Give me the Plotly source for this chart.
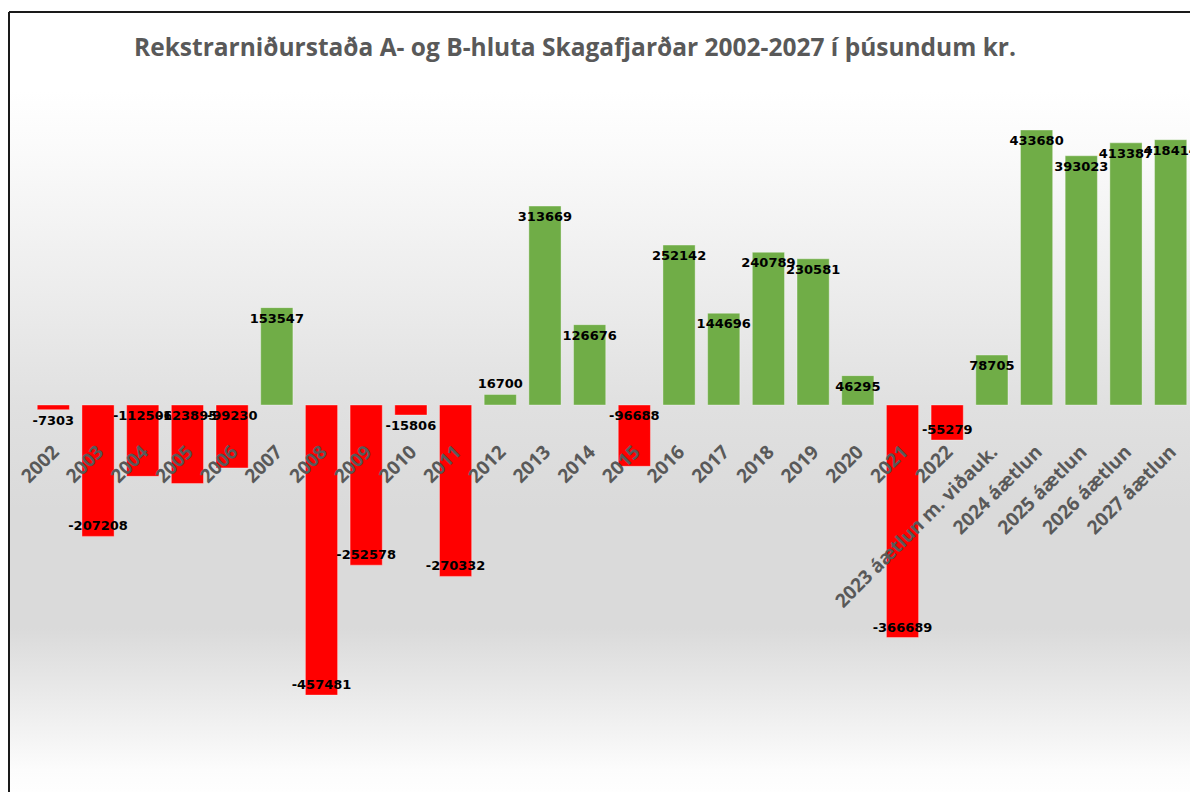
import base64
import plotly.graph_objects as go

categories = ["2002", "2003", "2004", "2005", "2006", "2007", "2008", "2009", "2010",
              "2011", "2012", "2013", "2014", "2015", "2016", "2017", "2018", "2019",
              "2020", "2021", "2022", "2023 áætlun m. viðauk.", "2024 áætlun",
              "2025 áætlun", "2026 áætlun", "2027 áætlun"]
values = [-7303, -207208, -112506, -123895, -99230, 153547, -457481, -252578, -15806,
          -270332, 16700, 313669, 126676, -96688, 252142, 144696, 240789, 230581,
          46295, -366689, -55279, 78705, 433680, 393023, 413387, 418414]
labels_at_base = ["2004", "2005", "2006", "2015"]

title_text = "Rekstrarniðurstaða A- og B-hluta Skagafjarðar 2002-2027 í þúsundum kr."

# page has an 8px body margin, so the figure is sized to fit the window
W, H = 1190, 784
ml, mr, mt, mb = 23, 5, 92, 32
pw, ph = W - ml - mr, H - mt - mb
y_lo, y_hi = -559850, 481000
zero_pos = (0 - y_lo) / (y_hi - y_lo)

RED = "#ff0000"
GREEN = "#70ad47"


def colour(v):
    return RED if v < 0 else GREEN


def pos(v):
    return "outside" if abs(v) < 30000 else "inside"


end_vals = [None if c in labels_at_base else v for c, v in zip(categories, values)]
base_vals = [v if c in labels_at_base else None for c, v in zip(categories, values)]

label_font = dict(family="DejaVu Sans", size=13, color="black", weight="bold")
edge = dict(width=1, color="rgba(255,255,255,0.35)")

fig = go.Figure()
fig.add_trace(go.Bar(
    x=categories, y=end_vals,
    marker=dict(color=[colour(v) if v is not None else GREEN for v in end_vals], line=edge),
    text=[str(v) if v is not None else "" for v in end_vals],
    textposition=[pos(v) if v is not None else "none" for v in end_vals],
    insidetextanchor="end", textangle=0, constraintext="none",
    textfont=label_font, insidetextfont=label_font, outsidetextfont=label_font,
    cliponaxis=False, showlegend=False,
))
fig.add_trace(go.Bar(
    x=categories, y=base_vals,
    marker=dict(color=[colour(v) if v is not None else GREEN for v in base_vals], line=edge),
    text=[str(v) if v is not None else "" for v in base_vals],
    textposition="inside",
    insidetextanchor="start", textangle=0, constraintext="none",
    textfont=label_font, insidetextfont=label_font,
    cliponaxis=False, showlegend=False,
))

# background gradient (Excel-like)
svg = '''<svg xmlns="http://www.w3.org/2000/svg" width="1190" height="780" preserveAspectRatio="none">
<defs><linearGradient id="g" x1="0" y1="0" x2="0" y2="1">
<stop offset="0" stop-color="#ffffff"/>
<stop offset="0.10" stop-color="#ffffff"/>
<stop offset="0.18" stop-color="#fafafa"/>
<stop offset="0.37" stop-color="#ebebeb"/>
<stop offset="0.50" stop-color="#e0e0e0"/>
<stop offset="0.63" stop-color="#dadada"/>
<stop offset="0.78" stop-color="#dadada"/>
<stop offset="0.87" stop-color="#ebebeb"/>
<stop offset="0.96" stop-color="#fcfcfc"/>
<stop offset="1" stop-color="#ffffff"/>
</linearGradient></defs>
<rect x="0" y="0" width="1190" height="780" fill="url(#g)"/></svg>'''
src = "data:image/svg+xml;base64," + base64.b64encode(svg.encode()).decode()

px0, py0 = 1, 4
fx0 = (px0 - ml) / pw
fy1 = (H - mb - py0) / ph
fig.add_layout_image(dict(source=src, xref="paper", yref="paper", x=fx0, y=fy1,
                          sizex=(W + 10 - px0) / pw, sizey=(H + 10 - py0) / ph,
                          sizing="stretch", xanchor="left", yanchor="top", layer="below"))

fig.add_shape(type="line", xref="paper", yref="paper", x0=fx0, x1=(W + 10 - ml) / pw,
              y0=fy1, y1=fy1, line=dict(color="#1a1a1a", width=2))
fig.add_shape(type="line", xref="paper", yref="paper", x0=fx0, x1=fx0,
              y0=fy1, y1=-(mb + 10) / ph, line=dict(color="#1a1a1a", width=2))

fig.update_layout(
    width=W, height=H,
    margin=dict(l=ml, r=mr, t=mt, b=mb, autoexpand=False),
    paper_bgcolor="white", plot_bgcolor="rgba(0,0,0,0)",
    barmode="overlay", bargap=0.28,
    title=dict(text=title_text, x=567 / W, xanchor="center", y=1 - 39 / H, yanchor="middle",
               font=dict(family="Open Sans", size=24.5, color="#595959", weight="bold")),
    xaxis=dict(type="category", range=[-0.5, len(categories) - 0.5], anchor="free",
               position=zero_pos, tickangle=-45, showline=False, ticks="", showgrid=False,
               zeroline=False, automargin=False, ticklabelstandoff=31,
               tickfont=dict(family="Open Sans", size=19, color="#595959", weight="bold")),
    yaxis=dict(range=[y_lo, y_hi], visible=False, showgrid=False, zeroline=False),
)

fig.write_html("out.html")
